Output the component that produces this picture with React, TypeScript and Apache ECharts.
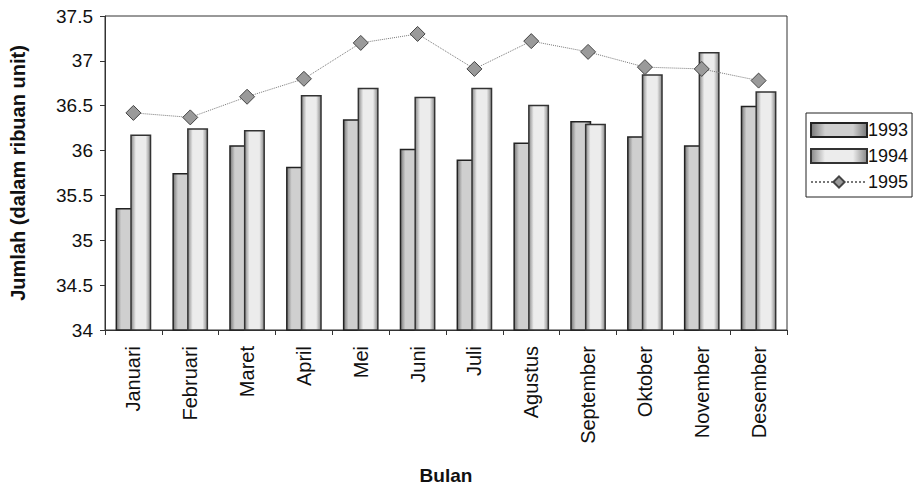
import React, { useEffect, useRef } from "react";
import * as echarts from "echarts";

const months = ["Januari", "Februari", "Maret", "April", "Mei", "Juni", "Juli", "Agustus", "September", "Oktober", "November", "Desember"];
const s1993 = [35.36, 35.75, 36.06, 35.82, 36.35, 36.02, 35.9, 36.09, 36.33, 36.16, 36.06, 36.5];
const s1994 = [36.18, 36.25, 36.23, 36.62, 36.7, 36.6, 36.7, 36.51, 36.3, 36.85, 37.1, 36.66];
const s1995 = [36.42, 36.37, 36.6, 36.8, 37.2, 37.3, 36.91, 37.22, 37.1, 36.93, 36.91, 36.78];

const FONT = "Liberation Sans, Arial, sans-serif";

export default function App() {
  const ref = useRef<HTMLDivElement>(null);
  useEffect(() => {
    if (!ref.current) return;
    const chart = echarts.init(ref.current, null, { renderer: "svg" });
    const barGrad = (edge: string, mid: string) =>
      new echarts.graphic.LinearGradient(0, 0, 1, 0, [
        { offset: 0, color: edge },
        { offset: 0.25, color: mid },
        { offset: 0.75, color: mid },
        { offset: 1, color: edge },
      ]);
    chart.setOption({
      animation: false,
      backgroundColor: "#ffffff",
      textStyle: { fontFamily: FONT },
      grid: { left: 103, right: 136, top: 16, bottom: 157, show: true, borderColor: "#333", borderWidth: 1, backgroundColor: "transparent" },
      legend: {
        orient: "vertical",
        left: 806,
        top: 113,
        width: 112,
        padding: [8, 4, 6, 4],
        itemGap: 8,
        itemWidth: 56,
        itemHeight: 14,
        borderColor: "#222",
        borderWidth: 1,
        textStyle: { fontFamily: FONT, fontSize: 18, color: "#111", padding: [0, 0, 0, -4] },
        data: [
          { name: "1993", icon: "rect" },
          { name: "1994", icon: "rect" },
          { name: "1995" },
        ],
      },
      xAxis: {
        type: "category",
        data: months,
        name: "Bulan",
        nameLocation: "middle",
        nameGap: 136,
        nameTextStyle: { fontFamily: FONT, fontSize: 19, fontWeight: "bold", color: "#111" },
        axisLine: { lineStyle: { color: "#333", width: 1 } },
        axisTick: { show: true, length: 5, lineStyle: { color: "#333" } },
        axisLabel: { rotate: 90, fontFamily: FONT, fontSize: 20, color: "#111", margin: 16 },
        splitLine: { show: false },
      },
      yAxis: {
        type: "value",
        min: 34,
        max: 37.5,
        interval: 0.5,
        name: "Jumlah (dalam ribuan unit)",
        nameLocation: "middle",
        nameRotate: 90,
        nameGap: 77,
        nameTextStyle: { fontFamily: FONT, fontSize: 20, fontWeight: "bold", color: "#111" },
        axisLine: { show: true, lineStyle: { color: "#333", width: 1 } },
        axisTick: { show: true, length: 5, lineStyle: { color: "#333" } },
        axisLabel: { fontFamily: FONT, fontSize: 19, color: "#111", margin: 12 },
        splitLine: { show: false },
      },
      series: [
        {
          name: "1993",
          type: "bar",
          data: s1993,
          barWidth: 21,
          barGap: "-30%",
          itemStyle: { color: barGrad("#777", "#cfcfcf"), borderColor: "#222", borderWidth: 1.5 },
        },
        {
          name: "1994",
          type: "bar",
          data: s1994,
          barWidth: 21,
          itemStyle: { color: barGrad("#888", "#ececec"), borderColor: "#333", borderWidth: 1.5 },
        },
        {
          name: "1995",
          type: "line",
          data: s1995,
          symbol: "diamond",
          symbolSize: 15,
          lineStyle: { color: "#777", width: 1, type: "dotted" },
          itemStyle: { color: "#9a9a9a", borderColor: "#444", borderWidth: 1 },
          z: 5,
        },
      ],
    });
    return () => chart.dispose();
  }, []);
  return <div ref={ref} style={{ width: 923, height: 490, position: "absolute", left: 0, top: 0 }} />;
}
